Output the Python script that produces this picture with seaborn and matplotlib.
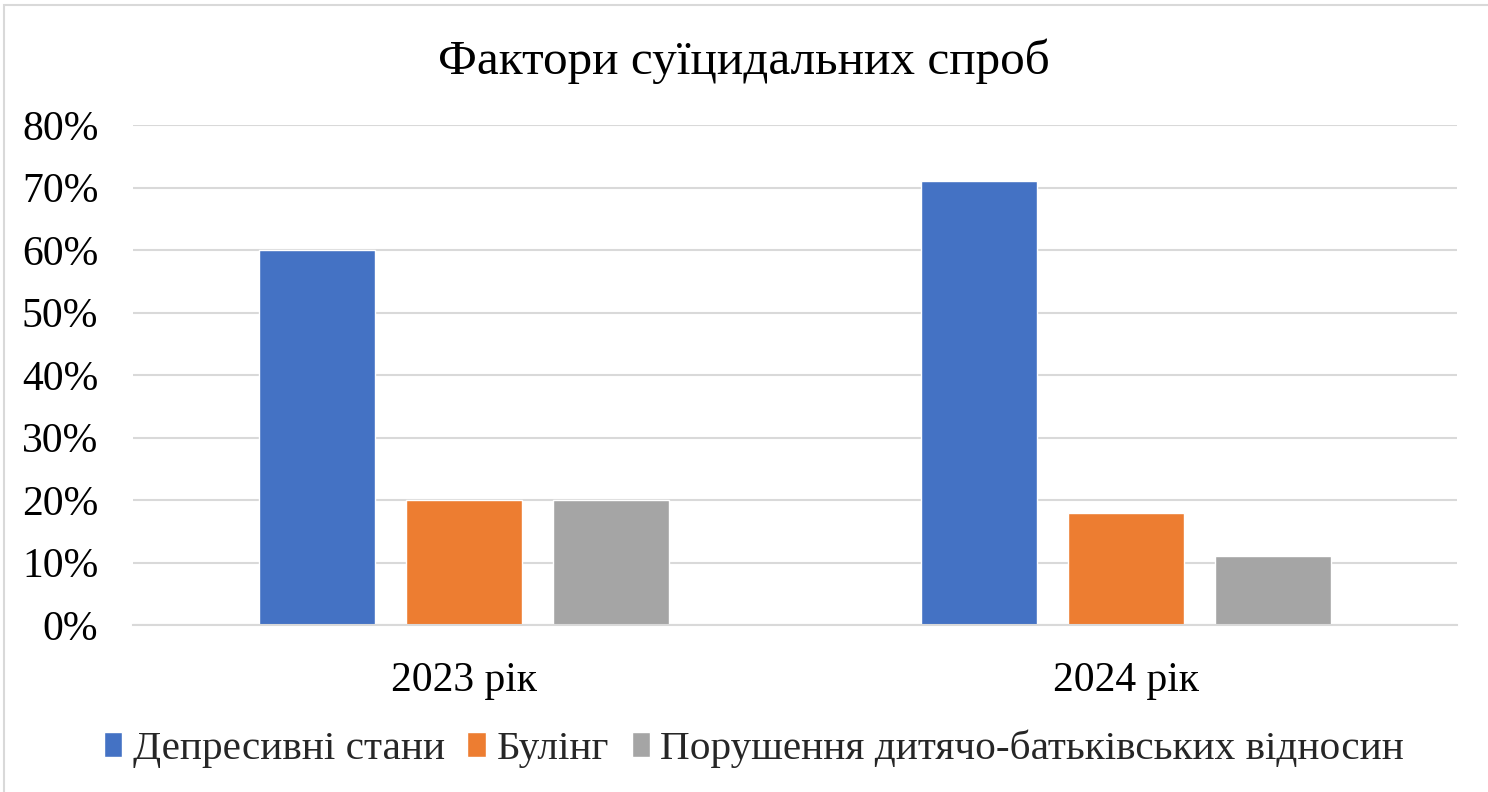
import pandas as pd
import matplotlib.pyplot as plt
import seaborn as sns
from matplotlib.patches import Rectangle
from matplotlib.ticker import PercentFormatter

# Data
years = ["2023 рік", "2024 рік"]
factors = ["Депресивні стани", "Булінг", "Порушення дитячо-батьківських відносин"]
values_2023 = [0.60, 0.20, 0.20]
values_2024 = [0.71, 0.18, 0.11]
colors = ["#4472C4", "#ED7D31", "#A5A5A5"]

df = pd.DataFrame({
    "year": [years[0]] * 3 + [years[1]] * 3,
    "factor": factors * 2,
    "value": values_2023 + values_2024,
})

sns.set_theme(style="white")
plt.rcParams["font.family"] = ["Liberation Serif", "DejaVu Serif"]

fig = plt.figure(figsize=(14.88, 7.92), dpi=100)
ax = fig.add_axes([133 / 1488, 1 - 625 / 792, (1457 - 133) / 1488, 500 / 792])

sns.barplot(data=df, x="year", y="value", hue="factor", palette=colors,
            width=0.666, gap=0.21, saturation=1, ax=ax)

ax.set_xlim(-0.5, 1.5)
ax.set_ylim(0, 0.8)
ax.set_yticks([i / 10 for i in range(9)])
ax.yaxis.set_major_formatter(PercentFormatter(1.0, decimals=0))
ax.grid(axis="y", color="#D9D9D9", linewidth=1.5)
ax.set_axisbelow(True)
for s in ["top", "right", "left"]:
    ax.spines[s].set_visible(False)
ax.spines["bottom"].set_color("#D9D9D9")
ax.spines["bottom"].set_linewidth(1.5)
ax.tick_params(axis="y", length=0, pad=25, labelsize=30, labelcolor="black")
ax.tick_params(axis="x", length=0, pad=26, labelsize=30, labelcolor="black")
ax.set_xlabel("")
ax.set_ylabel("")

fig.text(0.5, 1 - 61 / 792, "Фактори суїцидальних спроб", ha="center", va="center",
         fontsize=35.5, color="black")

handles, labels = ax.get_legend_handles_labels()
ax.get_legend().remove()
fig.legend(handles, labels, loc="center", bbox_to_anchor=(754 / 1488, 1 - 749 / 792), ncol=3,
           frameon=False, fontsize=29.7, handlelength=0.45, handleheight=0.55,
           handletextpad=0.25, columnspacing=0.55)

# light chart border
fig.patches.append(Rectangle((4 / 1488, -0.1), 1.2, 1 - 5 / 792 + 0.1,
                             transform=fig.transFigure, fill=False,
                             edgecolor="#D9D9D9", linewidth=1.5))

fig.savefig("out.png", dpi=100)
